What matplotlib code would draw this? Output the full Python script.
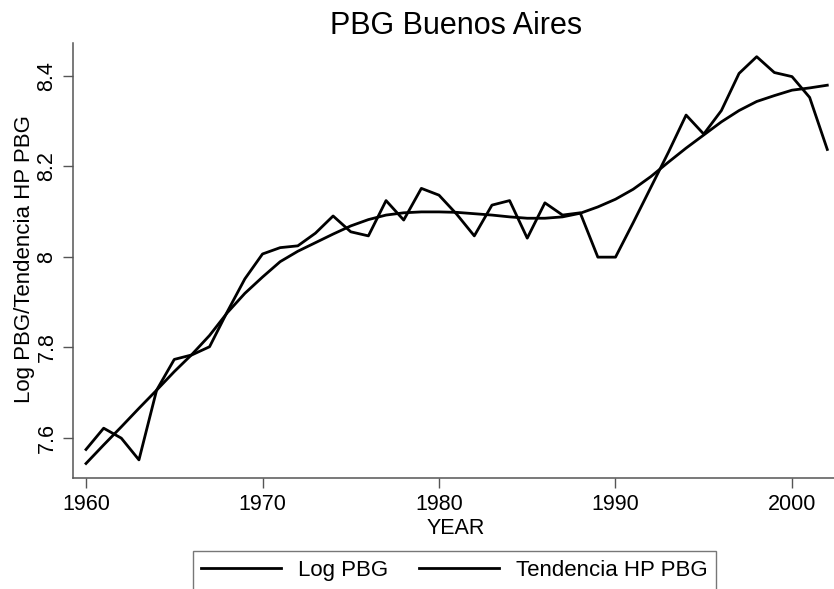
import matplotlib
matplotlib.use("Agg")
import matplotlib.pyplot as plt

years = list(range(1960, 2003))
log_pbg = [7.574, 7.621, 7.599, 7.551, 7.705, 7.773, 7.783, 7.801, 7.878, 7.951,
           8.006, 8.020, 8.024, 8.052, 8.090, 8.055, 8.046, 8.124, 8.081, 8.151,
           8.136, 8.094, 8.046, 8.114, 8.124, 8.041, 8.119, 8.092, 8.097, 7.999,
           7.999, 8.075, 8.153, 8.231, 8.313, 8.271, 8.323, 8.405, 8.442, 8.407,
           8.398, 8.352, 8.237]
hp_trend = [7.543, 7.584, 7.624, 7.665, 7.705, 7.746, 7.784, 7.826, 7.876, 7.919,
            7.955, 7.989, 8.012, 8.031, 8.050, 8.068, 8.082, 8.092, 8.097, 8.099,
            8.099, 8.098, 8.095, 8.092, 8.088, 8.085, 8.085, 8.088, 8.096, 8.110,
            8.127, 8.149, 8.177, 8.209, 8.240, 8.269, 8.298, 8.323, 8.343, 8.356,
            8.368, 8.373, 8.379]
xticks = [1960, 1970, 1980, 1990, 2000]
yticks = [7.6, 7.8, 8.0, 8.2, 8.4]
ytick_labels = ["7.6", "7.8", "8", "8.2", "8.4"]

plt.rcParams['font.family'] = ['Liberation Sans', 'DejaVu Sans']

W, H = 834, 589
fig = plt.figure(figsize=(W / 100, H / 100), dpi=100)
left, right, top, bottom = 72.7, 834, 43.3, 477.7
ax = fig.add_axes([left / W, 1 - bottom / H, (right - left) / W, (bottom - top) / H])

l1, = ax.plot(years, log_pbg, color='black', lw=2.0)
l2, = ax.plot(years, hp_trend, color='black', lw=2.0)

ax.set_xlim(1959.246, 2002.38)
ax.set_ylim(7.5116, 8.4716)

spine_col = '#555555'
for s in ['top', 'right']:
    ax.spines[s].set_visible(False)
for s in ['left', 'bottom']:
    ax.spines[s].set_color(spine_col)
    ax.spines[s].set_linewidth(1.1)

ax.set_xticks(xticks)
ax.set_xticklabels([str(x) for x in xticks])
ax.set_yticks(yticks)
ax.set_yticklabels(ytick_labels, rotation=90, va='center')
ax.tick_params(axis='both', colors=spine_col, labelcolor='black', labelsize=15.5,
               length=7, width=1.0, direction='out')
ax.tick_params(axis='y', pad=4)
ax.tick_params(axis='x', pad=5)

ax.set_title("PBG Buenos Aires", fontsize=22, pad=7,
             x=(456 - left) / (right - left))

fig.text(456 / W, 1 - 528 / H, "YEAR", ha='center', va='center', fontsize=15.5)
fig.text(25 / W, 1 - 259 / H, "Log PBG/Tendencia HP PBG", ha='center', va='center',
         rotation=90, fontsize=16)

leg = fig.legend([l1, l2], ["Log PBG", "Tendencia HP PBG"], ncol=2,
                 loc='upper center', bbox_to_anchor=(454.5 / W, 1 - 551 / H),
                 fontsize=16, frameon=True, fancybox=False, shadow=False,
                 handlelength=3.6, handletextpad=0.75, columnspacing=1.4,
                 borderpad=0.4, borderaxespad=0)
leg.get_frame().set_edgecolor(spine_col)
leg.get_frame().set_linewidth(1.0)
for h in leg.get_lines():
    h.set_linewidth(2.0)

fig.savefig("out.png", dpi=100)
